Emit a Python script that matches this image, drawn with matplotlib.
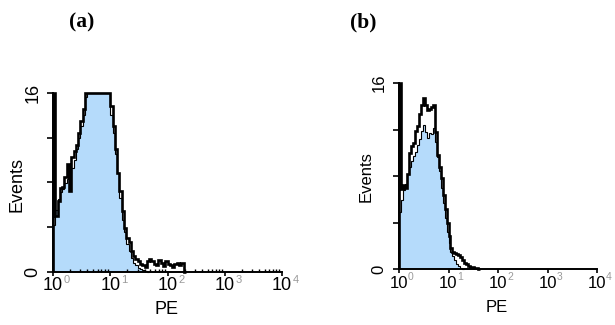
import numpy as np
import matplotlib.pyplot as plt
from matplotlib.transforms import blended_transform_factory

#%% data: counts per bin, bins 0.04 decade wide starting at 10^0

bin_w = 0.04

black_a = [16, 5.0, 6.3, 7.5, 7.6, 8.5, 9.6, 7.2, 10.3, 10.8,
           11.3, 12.4, 13.5, 14.6, 16, 16, 16, 16, 16, 16,
           16, 16, 16, 16, 16, 14.8, 13.0, 11.0, 8.8, 7.2,
           5.4, 3.9, 3.0, 2.6, 1.8, 1.4, 1.1, 0.9, 0.7, 0.6,
           0.4, 0.9, 1.1, 0.9, 0.7, 0.6, 1.0, 0.8, 0.5, 0.9,
           0.7, 0.6, 0.4, 0.7, 0.8, 0.6, 0.8, 0]
blue_a = [4.2, 5.5, 6.5, 7.1, 7.4, 7.9, 8.3, 8.8, 9.3, 10.0,
          11.0, 12.0, 13.0, 14.0, 15.6, 16, 16, 16, 16, 16,
          16, 16, 16, 16, 16, 14.0, 12.4, 10.5, 8.8, 6.6,
          4.6, 3.5, 2.5, 1.8, 1.2, 0.8, 0.55, 0.35, 0.25, 0.15,
          0.05, 0]

black_b = [16, 6.9, 7.2, 7.0, 8.2, 10.0, 10.6, 10.8, 11.9, 12.3,
           13.3, 14.1, 14.7, 14.1, 13.7, 13.8, 13.9, 14.1, 11.8, 9.8,
           8.8, 7.8, 6.4, 5.2, 4.0, 2.8, 1.8, 1.5, 1.4, 1.3,
           1.2, 1.0, 0.8, 0.55, 0.4, 0.3, 0.2, 0.2, 0.1, 0.05, 0]
blue_b = [4.9, 5.9, 6.8, 7.3, 8.2, 8.8, 9.3, 9.7, 10.1, 10.7,
          11.2, 11.9, 12.4, 11.8, 11.3, 11.7, 11.6, 12.1, 10.9, 9.6,
          8.4, 7.0, 5.7, 4.4, 3.2, 2.2, 1.5, 1.1, 0.8, 0.45,
          0.25, 0.1, 0]

panel_labels = ['(a)', '(b)']
decades = [0, 1, 2, 3, 4]

fill_col = '#b5dbfb'

#%%

W, H = 615, 325
fig = plt.figure(figsize=(W / 100, H / 100), dpi=100)

def box(l, r, t, b):
    return [l / W, 1 - b / H, (r - l) / W, (b - t) / H]

def panel(rect, black, blue, fs, lbl_pos, ev_pos, pe_pos, y0, yexp):
    ax = fig.add_axes(rect)
    e_blk = 10 ** (np.arange(len(black) + 1) * bin_w)
    e_blu = 10 ** (np.arange(len(blue) + 1) * bin_w)
    ax.stairs(blue, e_blu, fill=True, color=fill_col, lw=0)
    ax.stairs(blue, e_blu, color='k', lw=0.8, clip_on=False)
    ax.stairs(black, e_blk, color='k', lw=1.9, clip_on=False)
    ax.set_xscale('log')
    ax.set_xlim(1, 1e4)
    ax.set_ylim(0, 16)
    for s in ['top', 'right']:
        ax.spines[s].set_visible(False)
    for s in ['left', 'bottom']:
        ax.spines[s].set_linewidth(1.4)
    ax.set_yticks([0, 4, 8, 12, 16])
    ax.set_yticklabels([])
    ax.set_xticks([10 ** d for d in decades])
    ax.set_xticklabels([])
    ax.tick_params(axis='y', direction='out', length=4, width=1.2)
    ax.tick_params(axis='x', which='major', direction='out', length=3, width=1.2)
    ax.tick_params(axis='x', which='minor', direction='in', length=2, width=1.0)
    ax.minorticks_on()
    ax.yaxis.set_minor_locator(plt.NullLocator())

    tr = blended_transform_factory(ax.transData, fig.transFigure)
    for d in decades:
        ax.text(10 ** d, 1 - y0 / H, '10', transform=tr, ha='center',
                va='center', fontsize=fs, family='Liberation Sans')
        ax.text(10 ** (d + 0.24), 1 - yexp / H, str(d), transform=tr,
                ha='center', va='center', fontsize=fs * 0.62,
                color='#9a9a9a', family='Liberation Sans')
    # y labels 0 and 16, rotated
    xl, yt, yb = lbl_pos
    fig.text(xl / W, 1 - yt / H, '16', rotation=90, ha='center', va='center',
             fontsize=fs, family='Liberation Sans')
    fig.text(xl / W, 1 - yb / H, '0', rotation=90, ha='center', va='center',
             fontsize=fs, family='Liberation Sans')
    fig.text(ev_pos[0] / W, 1 - ev_pos[1] / H, 'Events', rotation=90,
             ha='center', va='center', fontsize=fs, family='Liberation Sans')
    fig.text(pe_pos[0] / W, 1 - pe_pos[1] / H, 'PE', ha='center',
             va='center', fontsize=fs, family='Liberation Sans')
    return ax

panel(box(53, 282, 93, 271.5), black_a, blue_a, 13,
      (33, 93, 272), (17, 184), (167, 310), 286, 280)
panel(box(399, 597, 83, 269), black_b, blue_b, 12,
      (379, 83, 269), (366, 177), (497, 307), 284, 277)

fig.text(82 / W, 1 - 22 / H, panel_labels[0], ha='center', va='center',
         fontsize=15.5, fontweight='bold', family='Liberation Serif')
fig.text(363 / W, 1 - 22 / H, panel_labels[1], ha='center', va='center',
         fontsize=15.5, fontweight='bold', family='Liberation Serif')

fig.savefig('out.png', dpi=100)
